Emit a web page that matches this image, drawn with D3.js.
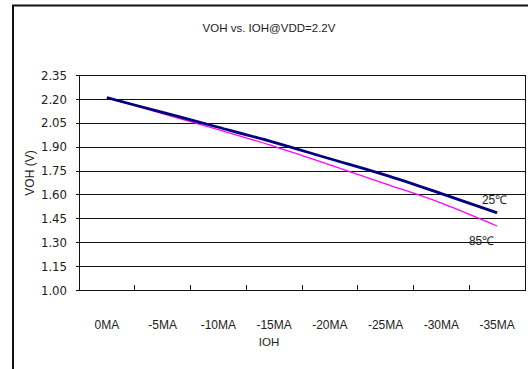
<!DOCTYPE html>
<html>
<head>
<meta charset="utf-8">
<script src="https://cdn.jsdelivr.net/npm/d3@7"></script>
<style>
  html, body { margin: 0; padding: 0; background: #fff; }
  svg { display: block; }
  text { font-family: "Liberation Sans", Arial, sans-serif; fill: #222; }
</style>
</head>
<body>
<svg id="chart" width="528" height="369"></svg>
<script>
// Output-high voltage versus output-high current at VDD = 2.2 V
const categories = ["0MA", "-5MA", "-10MA", "-15MA", "-20MA", "-25MA", "-30MA", "-35MA"];
const yTicks = [1.00, 1.15, 1.30, 1.45, 1.60, 1.75, 1.90, 2.05, 2.20, 2.35];
const voh25 = [2.208, 2.115, 2.022, 1.927, 1.824, 1.721, 1.605, 1.485];
const voh85 = [2.208, 2.107, 2.007, 1.902, 1.786, 1.667, 1.546, 1.402];
const seriesNames = ["25\u2103", "85\u2103"];

const svg = d3.select("#chart");
const plot = { left: 79, right: 525, top: 75, bottom: 290 };

const x = d3.scaleBand().domain(categories).range([plot.left, plot.right]);
const y = d3.scaleLinear().domain([1.0, 2.35]).range([plot.bottom, plot.top]);

// outer frame
svg.append("rect")
  .attr("x", 13).attr("y", 5.5)
  .attr("width", 600).attr("height", 600)
  .attr("fill", "none").attr("stroke", "#111").attr("stroke-width", 2);

// title
svg.append("text")
  .attr("x", 269).attr("y", 32)
  .attr("text-anchor", "middle")
  .style("font-size", "11.5px")
  .text("VOH vs. IOH@VDD=2.2V");

// horizontal gridlines
svg.append("g")
  .attr("transform", `translate(${plot.left},0)`)
  .call(d3.axisLeft(y).tickValues(yTicks).tickSize(-(plot.right - plot.left)).tickFormat(""))
  .call(g => g.select(".domain").remove())
  .call(g => g.selectAll("line").attr("stroke", "#111").attr("shape-rendering", "crispEdges"));

// y axis with short outward ticks and labels
svg.append("g")
  .attr("transform", `translate(${plot.left},0)`)
  .call(d3.axisLeft(y).tickValues(yTicks).tickSize(3).tickPadding(9).tickFormat(d3.format(".2f")))
  .call(g => g.select(".domain").remove())
  .call(g => g.selectAll("line").attr("stroke", "#111").attr("shape-rendering", "crispEdges"))
  .call(g => g.selectAll("text")
    .style("font-family", "'Liberation Sans Narrow', 'DejaVu Sans Condensed', sans-serif")
    .style("font-size", "13px").attr("fill", "#222"));

// plot border
svg.append("rect")
  .attr("x", plot.left).attr("y", plot.top)
  .attr("width", plot.right - plot.left).attr("height", plot.bottom - plot.top)
  .attr("fill", "none").attr("stroke", "#111").attr("shape-rendering", "crispEdges");

// x axis labels
svg.append("g")
  .attr("transform", `translate(0,${plot.bottom})`)
  .call(d3.axisBottom(x).tickSize(0).tickPadding(30))
  .call(g => g.select(".domain").remove())
  .call(g => g.selectAll("text").style("font-size", "12px").attr("fill", "#222"));

// category boundary ticks pointing into the plot
const bounds = categories.map(c => x(c)).concat([plot.right]);
svg.append("g").selectAll("line")
  .data(bounds.slice(1))
  .join("line")
  .attr("x1", d => d).attr("x2", d => d)
  .attr("y1", plot.bottom).attr("y2", plot.bottom - 5)
  .attr("stroke", "#111").attr("shape-rendering", "crispEdges");

// axis titles
svg.append("text")
  .attr("x", 269).attr("y", 346)
  .attr("text-anchor", "middle")
  .style("font-size", "11.5px")
  .text("IOH");

svg.append("text")
  .attr("transform", "translate(34,173) rotate(-90)")
  .attr("text-anchor", "middle")
  .style("font-size", "12px")
  .text("VOH (V)");

// series lines
const line = d3.line()
  .x((d, i) => x(categories[i]) + x.bandwidth() / 2)
  .y(d => y(d))
  .curve(d3.curveMonotoneX);

svg.append("path").datum(voh85)
  .attr("d", line).attr("fill", "none")
  .attr("stroke", "#ff00ff").attr("stroke-width", 1.3);

svg.append("path").datum(voh25)
  .attr("d", line).attr("fill", "none")
  .attr("stroke", "#000080").attr("stroke-width", 2.8);

// series labels near the line ends
const lastX = x(categories[categories.length - 1]) + x.bandwidth() / 2;
svg.append("text")
  .attr("x", lastX - 2.5).attr("y", y(voh25[voh25.length - 1]) - 8.5)
  .attr("text-anchor", "middle")
  .style("font-size", "12px")
  .text(seriesNames[0]);
svg.append("text")
  .attr("x", lastX - 15.5).attr("y", y(voh85[voh85.length - 1]) + 19)
  .attr("text-anchor", "middle")
  .style("font-size", "12px")
  .text(seriesNames[1]);
</script>
</body>
</html>
